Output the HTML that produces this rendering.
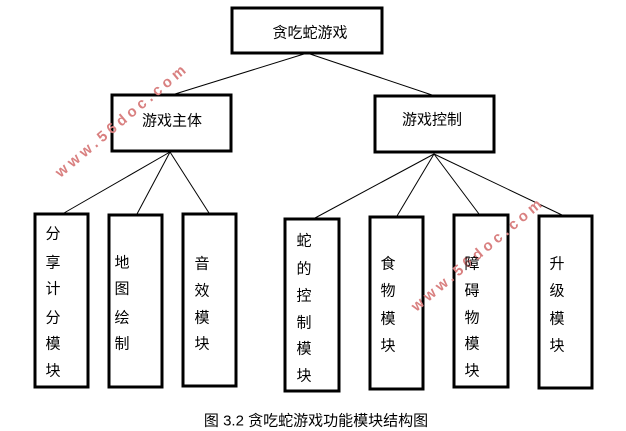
<!DOCTYPE html>
<html><head><meta charset="utf-8"><style>
html,body{margin:0;padding:0;background:#fff;}
body{width:626px;height:430px;position:relative;overflow:hidden;font-family:"Liberation Sans","Noto Sans CJK SC",sans-serif;}
.t{position:absolute;font-size:15px;color:#000;transform:translate(-50%,-50%);white-space:nowrap;}
.wm{position:absolute;color:#d98080;font-weight:bold;font-size:15px;letter-spacing:4px;transform-origin:0 0;white-space:nowrap;font-family:"Liberation Sans",sans-serif;}
</style></head><body>
<svg width="626" height="430" style="position:absolute;left:0;top:0">
<g fill="none" stroke="#000" stroke-width="3">
<rect x="232" y="8" width="150" height="45"/>
<rect x="112" y="95" width="119" height="56"/>
<rect x="375" y="96" width="119" height="56"/>
<rect x="35" y="214" width="53" height="173"/>
<rect x="109" y="215" width="53" height="172"/>
<rect x="183" y="214" width="53" height="172"/>
<rect x="285" y="219" width="54" height="172"/>
<rect x="370" y="217" width="53" height="172"/>
<rect x="454" y="215" width="54" height="172"/>
<rect x="539" y="216" width="53" height="172"/>
</g>
<g stroke="#000" stroke-width="1">
<line x1="304" y1="54" x2="175" y2="94"/>
<line x1="310" y1="54" x2="432" y2="95"/>
<line x1="170" y1="152" x2="64" y2="213"/>
<line x1="170" y1="152" x2="137" y2="214"/>
<line x1="170" y1="152" x2="209" y2="213"/>
<line x1="434" y1="154" x2="315" y2="218"/>
<line x1="434" y1="154" x2="397" y2="216"/>
<line x1="434" y1="154" x2="479" y2="214"/>
<line x1="434" y1="154" x2="562" y2="215"/>
</g>
</svg>
<div class="wm" style="left:52px;top:168px;transform:rotate(-40deg)">www.56doc.com</div>
<div class="wm" style="left:408px;top:302px;transform:rotate(-40deg)">www.56doc.com</div>
<div class="t" style="left:310px;top:32px">贪吃蛇游戏</div>
<div class="t" style="left:172px;top:120px">游戏主体</div>
<div class="t" style="left:432px;top:119px">游戏控制</div>
<div class="t" style="left:53px;top:233px">分</div><div class="t" style="left:53px;top:262px">享</div><div class="t" style="left:53px;top:288px">计</div><div class="t" style="left:53px;top:317px">分</div><div class="t" style="left:53px;top:343px">模</div><div class="t" style="left:53px;top:370px">块</div>
<div class="t" style="left:122px;top:262px">地</div><div class="t" style="left:122px;top:288px">图</div><div class="t" style="left:122px;top:317px">绘</div><div class="t" style="left:122px;top:343px">制</div>
<div class="t" style="left:202px;top:263px">音</div><div class="t" style="left:202px;top:290px">效</div><div class="t" style="left:202px;top:317px">模</div><div class="t" style="left:202px;top:343px">块</div>
<div class="t" style="left:304px;top:240px">蛇</div><div class="t" style="left:304px;top:268px">的</div><div class="t" style="left:304px;top:295px">控</div><div class="t" style="left:304px;top:322px">制</div><div class="t" style="left:304px;top:348px">模</div><div class="t" style="left:304px;top:375px">块</div>
<div class="t" style="left:388px;top:263px">食</div><div class="t" style="left:388px;top:290px">物</div><div class="t" style="left:388px;top:318px">模</div><div class="t" style="left:388px;top:345px">块</div>
<div class="t" style="left:472px;top:263px">障</div><div class="t" style="left:472px;top:290px">碍</div><div class="t" style="left:472px;top:317px">物</div><div class="t" style="left:472px;top:343px">模</div><div class="t" style="left:472px;top:370px">块</div>
<div class="t" style="left:557px;top:263px">升</div><div class="t" style="left:557px;top:290px">级</div><div class="t" style="left:557px;top:318px">模</div><div class="t" style="left:557px;top:345px">块</div>
<div class="t" style="left:316px;top:420px">图 3.2 贪吃蛇游戏功能模块结构图</div>
</body></html>
